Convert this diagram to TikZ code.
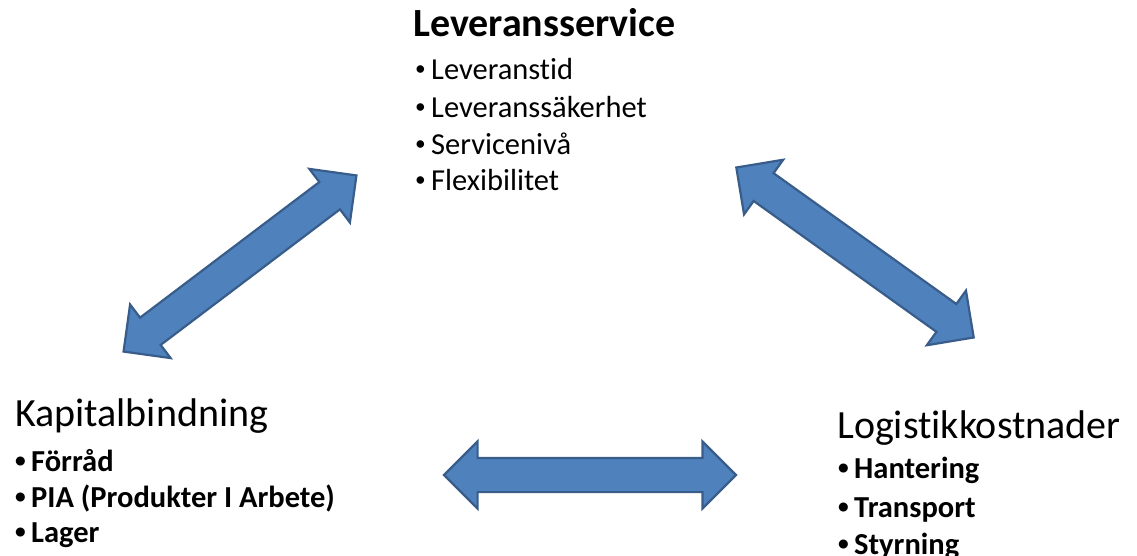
\documentclass[tikz,border=0pt]{standalone}
\usepackage{fontspec}
\setmainfont{Carlito}[Ligatures={NoCommon}]
\usetikzlibrary{shapes.arrows}
\definecolor{arrowfill}{HTML}{4F81BD}
\definecolor{arrowline}{HTML}{385D8A}
\newcommand{\itm}[1]{\makebox[16pt][l]{\raisebox{4pt}{\scalebox{0.7}{•}}}#1}
\begin{document}
\begin{tikzpicture}[x=1pt, y=1pt,
  head/.style={anchor=base west, inner sep=0pt, font=\fontsize{40}{48}\selectfont},
  item/.style={anchor=base west, inner sep=0pt, font=\fontsize{30.5}{36}\selectfont},
  bolditem/.style={item, font=\fontsize{30.5}{36}\selectfont\bfseries},
  blockarrow/.style={double arrow, draw=arrowline, fill=arrowfill, line width=2.2pt,
    inner xsep=0pt, inner ysep=16pt, minimum height=292pt, double arrow head extend=16.5pt}]
  \useasboundingbox (0,0) rectangle (1137,555);

  % Leveransservice
  \node[head, font=\fontsize{40}{48}\selectfont\bfseries] (L) at (413, 518) {Leveransservice};
  \node[item] (L1) at (415, 475) {\itm{Leveranstid}};
  \node[item] (L2) at (415, 437) {\itm{Leveranssäkerhet}};
  \node[item] (L3) at (415, 400) {\itm{Servicenivå}};
  \node[item] (L4) at (415, 364) {\itm{Flexibilitet}};

  % Kapitalbindning
  \node[head] (K) at (15, 129) {Kapitalbindning};
  \node[bolditem] (K1) at (15, 84) {\itm{Förråd}};
  \node[bolditem] (K2) at (15, 48) {\itm{PIA (Produkter I Arbete)}};
  \node[bolditem] (K3) at (15, 13) {\itm{Lager}};

  % Logistikkostnader
  \node[head] (C) at (837, 117) {Logistikkostnader};
  \node[bolditem] (C1) at (838, 77) {\itm{Hantering}};
  \node[bolditem] (C2) at (838, 38) {\itm{Transport}};
  \node[bolditem] (C3) at (838, 1) {\itm{Styrning}};

  % arrows
  \node[blockarrow, rotate=37.1] (LK) at (240, 291.5) {};
  \node[blockarrow, rotate=-35.6] (LC) at (855, 302.5) {};
  \node[blockarrow] (KC) at (590, 80) {};
\end{tikzpicture}
\end{document}
